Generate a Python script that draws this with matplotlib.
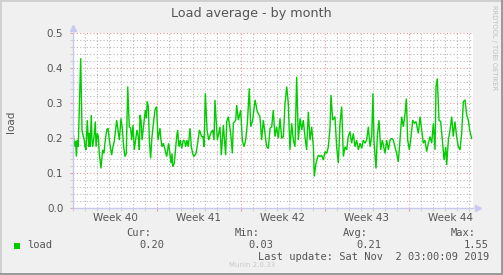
import numpy as np
import matplotlib
matplotlib.use("Agg")
import matplotlib.pyplot as plt
from matplotlib.patches import Rectangle

# days since Mon 30 Sep 2019 (start of week 40) and the load value
days = [
    0.00, 0.08, 0.17, 0.22, 0.28, 0.36, 0.44, 0.64, 0.75, 0.86, 0.94, 1.00, 1.08, 1.19,
    1.31, 1.36, 1.42, 1.53, 1.58, 1.64, 1.75, 1.86, 1.92, 2.03, 2.11, 2.19, 2.33, 2.47,
    2.58, 2.69, 2.81, 2.92, 3.03, 3.11, 3.22, 3.33, 3.44, 3.64, 3.86, 4.00, 4.11, 4.22,
    4.33, 4.44, 4.56, 4.69, 4.81, 4.89, 4.94, 5.00, 5.11, 5.22, 5.33, 5.44, 5.53, 5.58,
    5.67, 5.75, 6.03, 6.11, 6.19, 6.28, 6.36, 6.47, 6.56, 6.64, 6.83, 6.97, 7.08, 7.17,
    7.25, 7.33, 7.42, 7.53, 7.67, 7.81, 7.97, 8.17, 8.25, 8.31, 8.44, 8.64, 8.72, 8.83,
    8.94, 9.06, 9.19, 9.31, 9.39, 9.50, 9.61, 9.75, 9.86, 9.97, 10.08, 10.25, 10.39, 10.53,
    10.72, 10.83, 10.92, 11.03, 11.17, 11.31, 11.47, 11.64, 11.75, 11.83, 12.03, 12.25,
    12.36, 12.53, 12.72, 12.81, 12.94, 13.14, 13.28, 13.36, 13.56, 13.64, 13.78, 13.97,
    14.11, 14.25, 14.39, 14.53, 14.69, 14.81, 14.97, 15.17, 15.36, 15.58, 15.72, 15.86,
    16.14, 16.28, 16.42, 16.56, 16.69, 16.83, 16.97, 17.11, 17.25, 17.39, 17.53, 17.67,
    17.81, 17.94, 18.08, 18.22, 18.36, 18.50, 18.64, 18.78, 18.92, 19.06, 19.19, 19.33,
    19.47, 19.61, 19.75, 19.89, 20.03, 20.11, 20.25, 20.44, 20.58, 20.72, 20.86, 21.00,
    21.14, 21.28, 21.42, 21.50, 21.64, 21.83, 21.97, 22.11, 22.25, 22.39, 22.53, 22.67,
    22.81, 22.94, 23.08, 23.22, 23.36, 23.50, 23.64, 23.78, 23.92, 24.06, 24.19, 24.33,
    24.47, 24.61, 24.75, 24.89, 25.00, 25.08, 25.25, 25.36, 25.50, 25.64, 25.78, 26.00,
    26.14, 26.28, 26.42, 26.56, 26.69, 26.83, 26.97, 27.11, 27.25, 27.39, 27.53, 27.67,
    27.78, 27.89, 28.03, 28.17, 28.31, 28.44, 28.58, 28.78, 28.92, 29.06, 29.19, 29.33,
    29.47, 29.61, 29.75, 29.89, 30.03, 30.17, 30.25, 30.36, 30.50, 30.64, 30.78, 30.92,
    31.06, 31.14, 31.28, 31.42, 31.56, 31.69, 31.83, 31.97, 32.11, 32.25, 32.39, 32.53,
    32.67, 32.81, 32.94, 33.08, 33.22,
]
load = [
    0.223, 0.194, 0.175, 0.190, 0.147, 0.194, 0.175, 0.428, 0.223, 0.204, 0.194, 0.175, 0.166, 0.251,
    0.175, 0.213, 0.175, 0.266, 0.194, 0.175, 0.204, 0.247, 0.175, 0.213, 0.204, 0.156, 0.113, 0.166,
    0.156, 0.194, 0.223, 0.228, 0.194, 0.175, 0.151, 0.175, 0.190, 0.251, 0.194, 0.256, 0.228, 0.175,
    0.147, 0.156, 0.347, 0.232, 0.228, 0.194, 0.213, 0.237, 0.166, 0.194, 0.223, 0.204, 0.166, 0.266,
    0.251, 0.194, 0.280, 0.256, 0.304, 0.290, 0.194, 0.142, 0.194, 0.223, 0.280, 0.290, 0.194, 0.213,
    0.228, 0.194, 0.175, 0.185, 0.166, 0.147, 0.185, 0.128, 0.156, 0.118, 0.128, 0.204, 0.223, 0.175,
    0.194, 0.170, 0.194, 0.190, 0.175, 0.194, 0.175, 0.228, 0.175, 0.156, 0.147, 0.156, 0.185, 0.223,
    0.204, 0.204, 0.175, 0.328, 0.223, 0.194, 0.213, 0.223, 0.194, 0.309, 0.194, 0.232,
    0.151, 0.237, 0.151, 0.247, 0.261, 0.213, 0.156, 0.242, 0.251, 0.294, 0.251, 0.280,
    0.194, 0.175, 0.194, 0.242, 0.342, 0.232, 0.251, 0.309, 0.275, 0.261, 0.194, 0.251,
    0.175, 0.170, 0.228, 0.232, 0.280, 0.204, 0.232, 0.199, 0.256, 0.199, 0.204, 0.299,
    0.347, 0.299, 0.166, 0.242, 0.194, 0.175, 0.375, 0.194, 0.256, 0.223, 0.251, 0.204,
    0.166, 0.275, 0.194, 0.232, 0.175, 0.090, 0.128, 0.151, 0.147, 0.151, 0.137, 0.161,
    0.156, 0.175, 0.232, 0.323, 0.251, 0.261, 0.175, 0.128, 0.242, 0.290, 0.147, 0.175,
    0.166, 0.204, 0.218, 0.185, 0.213, 0.175, 0.194, 0.166, 0.185, 0.170, 0.194, 0.185,
    0.194, 0.232, 0.175, 0.204, 0.328, 0.194, 0.113, 0.204, 0.251, 0.166, 0.194, 0.156,
    0.194, 0.166, 0.194, 0.199, 0.194, 0.175, 0.156, 0.132, 0.194, 0.261, 0.232, 0.270,
    0.313, 0.194, 0.166, 0.204, 0.251, 0.242, 0.247, 0.213, 0.261, 0.223, 0.185, 0.194,
    0.161, 0.185, 0.204, 0.185, 0.242, 0.166, 0.347, 0.370, 0.251, 0.247, 0.194, 0.137,
    0.175, 0.123, 0.194, 0.223, 0.261, 0.204, 0.247, 0.204, 0.175, 0.166, 0.213, 0.304,
    0.309, 0.266, 0.251, 0.218, 0.199,
]

week_labels = ["Week 40", "Week 41", "Week 42", "Week 43", "Week 44"]
stats_titles = ["Cur:", "Min:", "Avg:", "Max:"]
stats_values = ["0.20", "0.03", "0.21", "1.55"]
last_update = "Last update: Sat Nov  2 03:00:09 2019"

W, H = 503, 275
BG = "#f0f0f0"
TXT = "#555555"
GREEN = "#00cc00"


def fx(px):
    return px / W


def fy(py):
    return 1 - py / H


fig = plt.figure(figsize=(W / 100, H / 100), dpi=100, facecolor=BG)

# frame around the picture (light top/left, dark bottom/right)
fig.patches.append(Rectangle((0, 0), 1, 1, transform=fig.transFigure, fill=False,
                             edgecolor="#cfcfcf", linewidth=2))
fig.patches.append(Rectangle((fx(W - 2), 0), fx(2), 1, transform=fig.transFigure,
                             facecolor="#9a9a9a", edgecolor="none"))
fig.patches.append(Rectangle((0, 0), 1, 2 / H, transform=fig.transFigure,
                             facecolor="#9a9a9a", edgecolor="none"))

ax = fig.add_axes([fx(73), fy(208), fx(400), 175 / H])
ax.set_facecolor("white")
ax.set_xlim(0, 400 / 12)
ax.set_ylim(0, 0.5)

# grid: minor gray dotted, major red dotted
ax.set_xticks(np.arange(0, 34, 1), minor=True)
ax.set_xticks([7, 14, 21, 28])
ax.set_yticks(np.arange(0, 0.51, 0.02), minor=True)
ax.set_yticks(np.arange(0, 0.51, 0.1))
ax.grid(which="minor", color="#b8b8b8", linestyle=(0, (1, 2)), linewidth=0.8)
ax.grid(which="major", color="#e49a9a", linestyle=(0, (1, 2)), linewidth=0.8)
ax.set_axisbelow(True)

ax.plot(days, load, color=GREEN, linewidth=1.0, solid_joinstyle="miter")

for s in ["top", "right"]:
    ax.spines[s].set_visible(False)
for s in ["left", "bottom"]:
    ax.spines[s].set_color("#c8c8f0")
    ax.spines[s].set_linewidth(1)

ax.tick_params(which="both", length=2, color="#e8a0a0", labelsize=7.5, labelcolor=TXT)
ax.tick_params(which="minor", color="#c8c8c8")
ax.set_xticklabels([])
ax.set_yticklabels(["0.0", "0.1", "0.2", "0.3", "0.4", "0.5"])
ax.tick_params(axis="y", pad=5)

for i, lab in enumerate(week_labels):
    ax.text(3.5 + 7 * i, -0.013, lab, ha="center", va="top", fontsize=7.5, color=TXT)

# axis arrows
ax.plot([0], [0.515], marker="^", markersize=4, color="#c8c8f0", clip_on=False)
ax.plot([33.75], [0], marker=">", markersize=4, color="#c8c8f0", clip_on=False)

fig.text(0.5, fy(14), "Load average - by month", ha="center", va="center",
         fontsize=9.2, color=TXT)
fig.text(fx(11), fy(122), "load", rotation=90, ha="center", va="center",
         fontsize=7.5, color=TXT)
fig.text(fx(494), fy(5), "RRDTOOL / TOBI OETIKER", rotation=270, ha="center", va="top",
         fontsize=4.8, color="#c0c0c0")

# legend
fig.patches.append(Rectangle((fx(14), fy(249)), fx(6), 6 / H, transform=fig.transFigure,
                             facecolor=GREEN, edgecolor="none"))
mono = "DejaVu Sans Mono"
fig.text(fx(27), fy(245), "load", ha="left", va="center", fontsize=7.5, color=TXT, family=mono)
title_x = [151, 260, 368, 476]
value_x = [164, 273, 381, 489]
for t, v, tx, vx in zip(stats_titles, stats_values, title_x, value_x):
    fig.text(fx(tx), fy(233), t, ha="right", va="center", fontsize=7.5, color=TXT, family=mono)
    fig.text(fx(vx), fy(245), v, ha="right", va="center", fontsize=7.5, color=TXT, family=mono)
fig.text(fx(489), fy(257), last_update, ha="right", va="center", fontsize=7.5,
         color=TXT, family=mono)
fig.text(fx(252), fy(265), "Munin 2.0.33", ha="center", va="center", fontsize=5,
         color="#c8c8c8")

fig.savefig("out.png", dpi=100, facecolor=BG)
